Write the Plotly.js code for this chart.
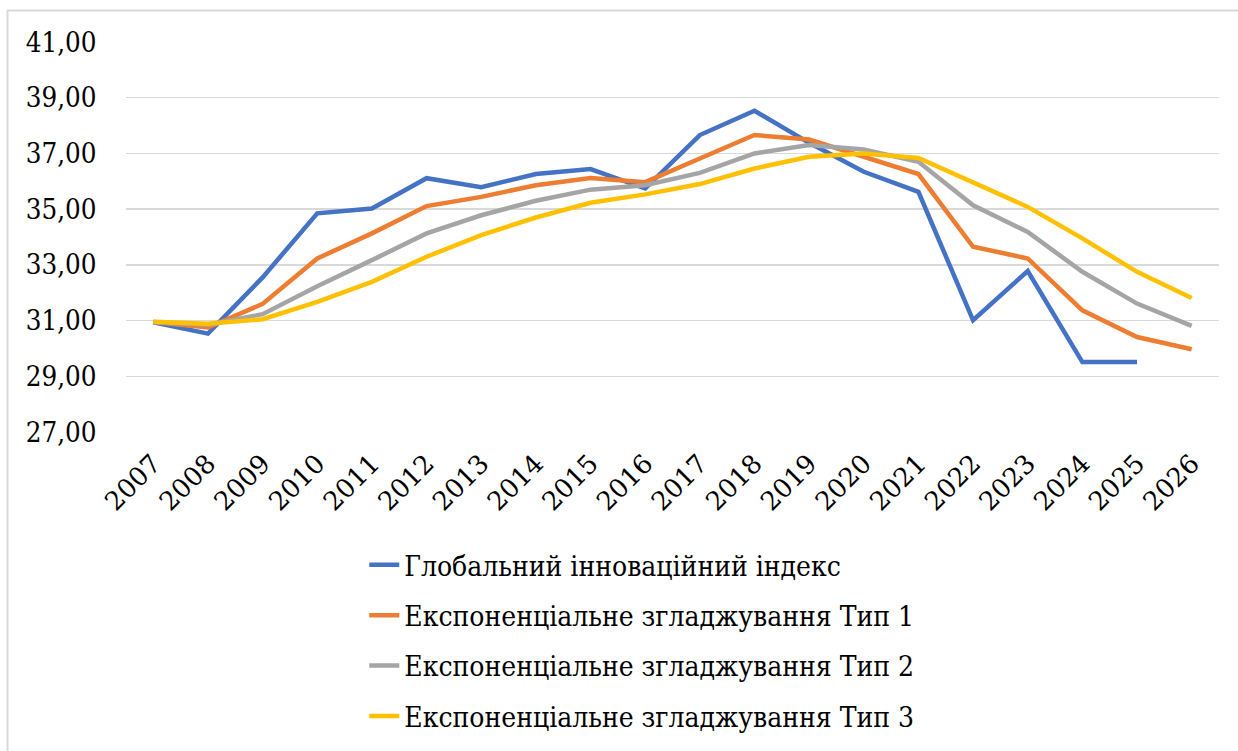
<!DOCTYPE html>
<html>
<head>
<meta charset="utf-8">
<script src="https://cdn.plot.ly/plotly-3.0.1.min.js"></script>
<style>
  html, body { margin: 0; padding: 0; background: #ffffff; }
  #chart { width: 1238px; height: 751px; }
</style>
</head>
<body>
<div id="chart"></div>
<script>
// Years on the horizontal axis
const years = ['2007', '2008', '2009', '2010', '2011', '2012', '2013', '2014', '2015', '2016',
               '2017', '2018', '2019', '2020', '2021', '2022', '2023', '2024', '2025', '2026'];

// Global Innovation Index (actual values, no value for 2026)
const gii = [30.94, 30.53, 32.55, 34.85, 35.02, 36.11, 35.79, 36.26, 36.44, 35.74,
             37.66, 38.53, 37.38, 36.34, 35.62, 31.01, 32.78, 29.51, 29.51, null];

// Exponential smoothing, type 1
const smooth1 = [30.95, 30.75, 31.60, 33.23, 34.13, 35.11, 35.44, 35.86, 36.12, 35.97,
                 36.82, 37.66, 37.50, 36.88, 36.26, 33.65, 33.23, 31.37, 30.41, 29.97];

// Exponential smoothing, type 2
const smooth2 = [30.95, 30.85, 31.23, 32.23, 33.17, 34.13, 34.78, 35.30, 35.70, 35.86,
                 36.30, 37.00, 37.30, 37.14, 36.70, 35.14, 34.18, 32.75, 31.61, 30.81];

// Exponential smoothing, type 3
const smooth3 = [30.96, 30.89, 31.05, 31.67, 32.39, 33.29, 34.07, 34.70, 35.23, 35.53,
                 35.90, 36.46, 36.88, 37.00, 36.84, 35.98, 35.08, 33.95, 32.75, 31.81];

const seriesNames = [
  'Глобальний інноваційний індекс',
  'Експоненціальне згладжування Тип 1',
  'Експоненціальне згладжування Тип 2',
  'Експоненціальне згладжування Тип 3'
];
const seriesColors = ['#4472C4', '#ED7D31', '#A5A5A5', '#FFC000'];
const seriesValues = [gii, smooth1, smooth2, smooth3];

const SERIF = 'DejaVu Serif Condensed';

const traces = seriesValues.map((vals, i) => ({
  type: 'scatter',
  mode: 'lines',
  x: years,
  y: vals,
  name: seriesNames[i],
  legendgroup: 'g' + i,
  connectgaps: false,
  line: { color: seriesColors[i], width: 4.5, shape: 'linear' },
  hoverinfo: 'x+y+name'
}));

const layout = {
  width: 1238,
  height: 751,
  autosize: false,
  paper_bgcolor: '#ffffff',
  plot_bgcolor: '#ffffff',
  separators: ', ',
  margin: { l: 126, r: 19, t: 42, b: 319, pad: 0, autoexpand: false },
  font: { family: SERIF, size: 28, color: '#000000' },
  showlegend: true,
  legend: {
    orientation: 'v',
    x: 0.218,
    xanchor: 'left',
    y: -0.277,
    yanchor: 'top',
    font: { family: SERIF, size: 28, color: '#000000' },
    bgcolor: 'rgba(0,0,0,0)',
    tracegroupgap: 11,
    itemwidth: 30
  },
  xaxis: {
    type: 'category',
    range: [-0.5, 19.5],
    tickangle: -45,
    showgrid: false,
    zeroline: false,
    showline: false,
    ticks: 'outside',
    ticklen: 5,
    tickcolor: 'rgba(0,0,0,0)',
    tickfont: { family: 'DejaVu Serif', size: 26, color: '#000000' },
    fixedrange: true
  },
  yaxis: {
    range: [27, 41],
    tickvals: [27, 29, 31, 33, 35, 37, 39, 41],
    tickformat: '.2f',
    showgrid: true,
    gridcolor: '#D9D9D9',
    gridwidth: 1.5,
    zeroline: false,
    showline: false,
    ticks: 'outside',
    ticklen: 23,
    tickcolor: 'rgba(0,0,0,0)',
    tickfont: { family: SERIF, size: 27.5, color: '#000000' },
    fixedrange: true
  },
  shapes: [{
    // light frame around the whole chart area
    type: 'rect',
    xref: 'paper', yref: 'paper',
    x0: (7.5 - 126) / 1093, x1: (1250 - 126) / 1093,
    y0: (432 - 770) / 390, y1: 1 + (42 - 10.5) / 390,
    line: { color: '#D9D9D9', width: 2 },
    fillcolor: 'rgba(0,0,0,0)',
    layer: 'below'
  }]
};

Plotly.newPlot('chart', traces, layout, { displayModeBar: false, staticPlot: true });
</script>
</body>
</html>
